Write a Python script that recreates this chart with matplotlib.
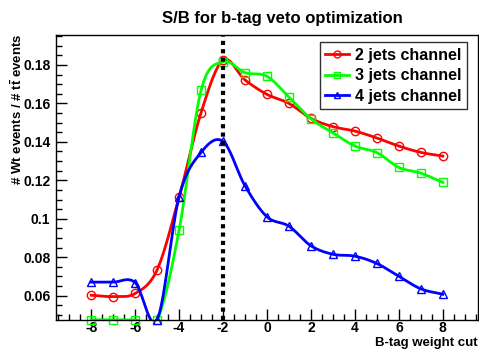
import numpy as np
import matplotlib
matplotlib.use("Agg")
import matplotlib.pyplot as plt
from matplotlib.ticker import MultipleLocator

plt.rcParams['font.family'] = ['Liberation Sans', 'DejaVu Sans']
plt.rcParams['font.weight'] = 'bold'
plt.rcParams['axes.unicode_minus'] = False
plt.rcParams['mathtext.fontset'] = 'custom'
plt.rcParams['mathtext.bf'] = 'Liberation Sans:bold'
plt.rcParams['mathtext.rm'] = 'Liberation Sans:bold'

cuts = [-8, -7, -6, -5, -4, -3, -2, -1, 0, 1, 2, 3, 4, 5, 6, 7, 8]
sb_2jets = [0.0602, 0.0595, 0.0611, 0.0734, 0.1112, 0.1552, 0.1825, 0.1722, 0.1647,
            0.1600, 0.1522, 0.1479, 0.1456, 0.1420, 0.1378, 0.1345, 0.1326]
sb_3jets = [0.0474, 0.0474, 0.0474, 0.0474, 0.0940, 0.1668, 0.1817, 0.1760, 0.1741,
            0.1633, 0.1520, 0.1447, 0.1378, 0.1344, 0.1267, 0.1237, 0.1189]
sb_4jets = [0.0670, 0.0670, 0.0668, 0.0474, 0.1114, 0.1345, 0.1402, 0.1171, 0.1010,
            0.0961, 0.0859, 0.0815, 0.0805, 0.0767, 0.0700, 0.0635, 0.0607]
labels = ['2 jets channel', '3 jets channel', '4 jets channel']
colors = ['#ff0000', '#00ff00', '#0000ff']
markers = ['o', 's', '^']
best_cut = -2


def smooth(x, y, n=30):
    # Catmull-Rom curve through the points (ROOT "C"-like smooth line)
    x = np.asarray(x, float)
    y = np.asarray(y, float)
    m = np.gradient(y, x)
    xs, ys = [], []
    t = np.linspace(0, 1, n)
    for i in range(len(x) - 1):
        h = x[i + 1] - x[i]
        h00 = 2 * t**3 - 3 * t**2 + 1
        h10 = t**3 - 2 * t**2 + t
        h01 = -2 * t**3 + 3 * t**2
        h11 = t**3 - t**2
        xs.append(x[i] + t * h)
        ys.append(h00 * y[i] + h10 * h * m[i] + h01 * y[i + 1] + h11 * h * m[i + 1])
    return np.concatenate(xs), np.concatenate(ys)


fig = plt.figure(figsize=(4.79, 3.49), dpi=100)
ax = fig.add_axes([56 / 479, 29 / 349, 422 / 479, 285 / 349])

for vals, lab, col, mk in zip([sb_2jets, sb_3jets, sb_4jets], labels, colors, markers):
    xs, ys = smooth(cuts, vals)
    ax.plot(xs, ys, color=col, lw=2)
    ax.plot(cuts, vals, linestyle='none', marker=mk, ms=6, mfc='none', mec=col, mew=1,
            clip_on=False)
    ax.plot([], [], color=col, lw=2, marker=mk, ms=5, mfc='none', mec=col, label=lab)

ax.axvline(best_cut, color='black', lw=3, linestyle=(0, (1, 1)))

ax.set_xlim(-9.6, 9.6)
ax.set_ylim(0.0473, 0.1956)
ax.xaxis.set_major_locator(MultipleLocator(2))
ax.xaxis.set_minor_locator(MultipleLocator(0.5))
ax.yaxis.set_major_locator(MultipleLocator(0.02))
ax.yaxis.set_minor_locator(MultipleLocator(0.005))
ax.yaxis.set_major_formatter(plt.FuncFormatter(lambda v, p: ('%g' % round(v, 3))))
ax.tick_params(which='both', direction='in', top=False, right=False, labelsize=10)
ax.tick_params(which='major', length=8, width=1)
ax.tick_params(which='minor', length=4, width=1)
ax.tick_params(axis='x', pad=1)
ax.tick_params(axis='y', pad=4)
for s in ax.spines.values():
    s.set_linewidth(1)

leg = ax.legend(loc='upper right', bbox_to_anchor=(0.974, 0.975), fontsize=11.5,
                frameon=True, fancybox=False, edgecolor='black', handlelength=1.5,
                borderpad=0.35, labelspacing=0.35, handletextpad=0.35, borderaxespad=0)
leg.get_frame().set_linewidth(1)

fig.text(282 / 479, 1 - 18 / 349, 'S/B for b-tag veto optimization', ha='center',
         va='center', fontsize=12, fontweight='bold')
fig.text(1 - 1 / 479, 0, 'B-tag weight cut', ha='right', va='bottom',
         fontsize=9.5, fontweight='bold')
fig.text(17 / 479, 1 - 33 / 349, r'# Wt events / # $\mathbf{t\bar{t}}$ events',
         rotation=90, ha='center', va='top', fontsize=9.5, fontweight='bold')

fig.savefig('out.png', dpi=100)
